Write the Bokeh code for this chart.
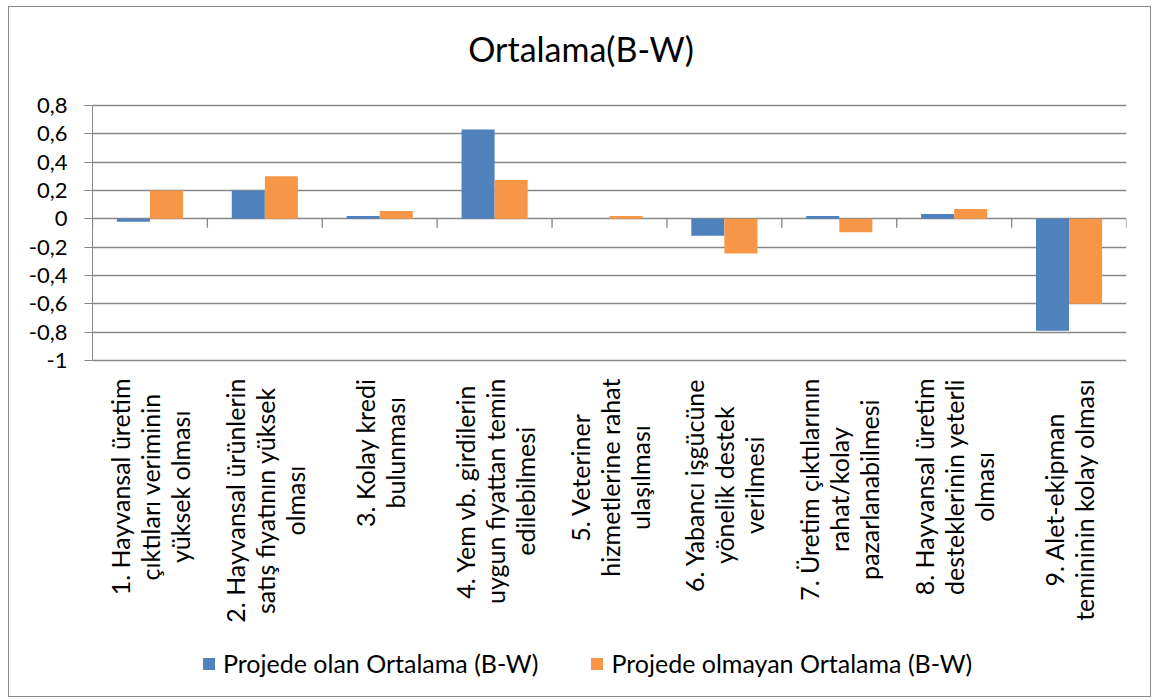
from math import pi
from bokeh.plotting import figure
from bokeh.models import (ColumnDataSource, FixedTicker, Label, Legend, LegendItem,
                          Range1d, CustomJSTickFormatter)
from bokeh.transform import dodge
from bokeh.embed import file_html
from bokeh.resources import INLINE

# ---------------- data ----------------
title_text = "Ortalama(B-W)"
categories = [
    ["1. Hayvansal üretim", "çıktıları veriminin", "yüksek olması"],
    ["2. Hayvansal ürünlerin", "satış fiyatının yüksek", "olması"],
    ["3. Kolay kredi", "bulunması"],
    ["4. Yem vb. girdilerin", "uygun fiyattan temin", "edilebilmesi"],
    ["5. Veteriner", "hizmetlerine rahat", "ulaşılması"],
    ["6. Yabancı işgücüne", "yönelik destek", "verilmesi"],
    ["7. Üretim çıktılarının", "rahat/kolay", "pazarlanabilmesi"],
    ["8. Hayvansal üretim", "desteklerinin yeterli", "olması"],
    ["9. Alet-ekipman", "temininin kolay olması"],
]
series_names = ["Projede olan Ortalama (B-W)", "Projede olmayan Ortalama (B-W)"]
projede_olan = [-0.02, 0.20, 0.02, 0.63, 0.0, -0.12, 0.02, 0.035, -0.79]
projede_olmayan = [0.20, 0.30, 0.055, 0.275, 0.02, -0.245, -0.095, 0.07, -0.60]
y_ticks = [-1.0, -0.8, -0.6, -0.4, -0.2, 0.0, 0.2, 0.4, 0.6, 0.8]
y_tick_labels = ["-1", "-0,8", "-0,6", "-0,4", "-0,2", "0", "0,2", "0,4", "0,6", "0,8"]

# ---------------- layout / styles ----------------
FONT = "Lato"
BLUE = "#4F81BD"
ORANGE = "#F79646"
GRID = "#878787"

W, H = 1143, 691            # canvas size
LEFT, RIGHT = 83, 26        # frame margins
AX_TOP_PX, AX_BOT_PX = 98, 353   # pixel rows (from canvas top) of top / bottom value
ppu = (AX_BOT_PX - AX_TOP_PX) / (y_ticks[-1] - y_ticks[0])
y_start = y_ticks[0] - (H - AX_BOT_PX) / ppu
y_end = y_ticks[-1] + AX_TOP_PX / ppu

n = len(categories)
x_pos = [i + 0.5 for i in range(n)]
src = ColumnDataSource(dict(x=x_pos, olan=projede_olan, olmayan=projede_olmayan))

p = figure(width=W, height=H,
           x_range=Range1d(0, n), y_range=Range1d(y_start, y_end),
           output_backend="svg", toolbar_location=None, x_axis_location=None,
           min_border_left=LEFT, min_border_right=RIGHT, min_border_top=0, min_border_bottom=0)
p.styles = {"border": "1px solid #8a8a8a", "margin-left": "8px", "margin-top": "6px"}
p.outline_line_color = None
p.background_fill_color = "white"
p.border_fill_color = "white"

bar_w = 0.2875
off = 0.144
r1 = p.vbar(x=dodge("x", -off), top="olan", bottom=0, width=bar_w, source=src,
            fill_color=BLUE, line_color=None)
r2 = p.vbar(x=dodge("x", off), top="olmayan", bottom=0, width=bar_w, source=src,
            fill_color=ORANGE, line_color=None)

# y axis (limited to the value range)
p.yaxis.bounds = (y_ticks[0], y_ticks[-1])
p.yaxis.ticker = FixedTicker(ticks=y_ticks)
p.yaxis.formatter = CustomJSTickFormatter(args=dict(tvals=y_ticks, tlabels=y_tick_labels), code="""
let best = 0;
for (let i = 0; i < tvals.length; i++) {
  if (Math.abs(tvals[i] - tick) < Math.abs(tvals[best] - tick)) best = i;
}
return tlabels[best];
""")
p.yaxis.major_tick_in = 0
p.yaxis.major_tick_out = 8
p.yaxis.minor_tick_out = 0
p.yaxis.minor_tick_in = 0
p.yaxis.axis_line_color = GRID
p.yaxis.major_tick_line_color = GRID
p.yaxis.major_label_text_font = FONT
p.yaxis.major_label_text_font_size = "22px"
p.yaxis.major_label_text_color = "black"
p.yaxis.major_label_standoff = 17

p.ygrid.ticker = FixedTicker(ticks=y_ticks)
p.ygrid.grid_line_color = GRID
p.ygrid.grid_line_width = 1.3
p.xgrid.visible = False

# category tick marks on the zero line
p.ray(x=list(range(n + 1)), y=0, length=9, length_units="screen", angle=-pi / 2,
      line_color=GRID, line_width=1.3)

# title
p.add_layout(Label(x=W / 2 - LEFT, y=H - 41, x_units="screen", y_units="screen",
                   text=title_text, text_align="center", text_baseline="alphabetic",
                   text_font=FONT, text_font_size="34px", text_color="black"))

# category labels (rotated, multi-line, centred lines)
for xc, lines in zip(x_pos, categories):
    p.add_layout(Label(x=xc, y=H - 371, x_units="data", y_units="screen",
                       text="\n".join(lines), angle=pi / 2,
                       text_align="center", anchor="center_right",
                       text_line_height=1.0,
                       text_font=FONT, text_font_size="25px", text_color="black"))

legend = Legend(items=[LegendItem(label=series_names[0], renderers=[r1]),
                       LegendItem(label=series_names[1], renderers=[r2])],
                orientation="horizontal", location=(109, 20),
                glyph_width=15, glyph_height=15, label_standoff=7, spacing=51,
                padding=0, margin=0, border_line_color=None, background_fill_alpha=0,
                label_text_font=FONT, label_text_font_size="25px", label_text_color="black")
p.add_layout(legend)

open("out.html", "w").write(file_html(p, INLINE))
